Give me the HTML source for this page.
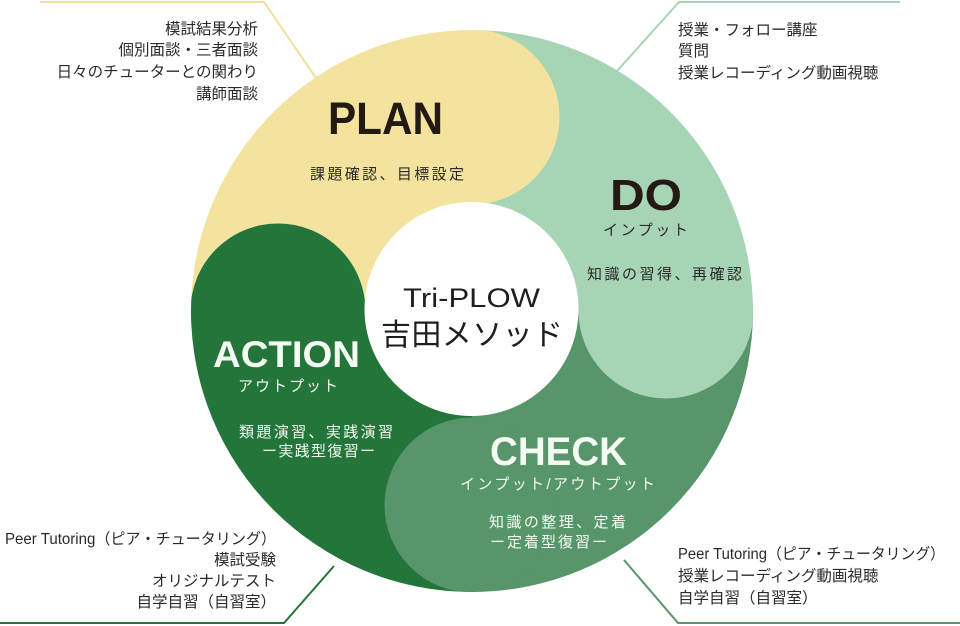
<!DOCTYPE html>
<html><head><meta charset="utf-8">
<style>
html,body{margin:0;padding:0;background:#fff;}
svg{display:block;}
text{font-family:"Liberation Sans","Noto Sans CJK JP",sans-serif;}
.n{font-size:15.5px;fill:#2a2a2a;}
.h{font-weight:bold;}
</style></head><body>
<svg width="960" height="626" viewBox="0 0 960 626" xmlns="http://www.w3.org/2000/svg">
<defs>
<clipPath id="c"><circle cx="472" cy="311" r="281"/></clipPath>
</defs>
<g clip-path="url(#c)">
<rect x="180" y="20" width="292" height="291" fill="#f3e39e"/>
<rect x="472" y="20" width="300" height="291" fill="#a7d4b4"/>
<rect x="472" y="311" width="300" height="300" fill="#57956a"/>
<rect x="180" y="311" width="292" height="300" fill="#23753a"/>
<circle cx="472" cy="117" r="87.5" fill="#f3e39e"/>
<circle cx="666" cy="311" r="87.5" fill="#a7d4b4"/>
<circle cx="472" cy="505" r="87.5" fill="#57956a"/>
<circle cx="278" cy="311" r="87.5" fill="#23753a"/>
</g>
<circle cx="471.5" cy="309" r="107" fill="#fff"/>

<polyline points="40,2 264,2 316,78" fill="none" stroke="#f0e09a" stroke-width="2"/>
<polyline points="617,71 679,2 900,2" fill="none" stroke="#a7d4b4" stroke-width="2"/>
<polyline points="0,623 284,623 334,566" fill="none" stroke="#23753a" stroke-width="2"/>
<polyline points="624,560 678,623 960,623" fill="none" stroke="#57956a" stroke-width="2"/>

<g class="n" text-anchor="end">
<text x="258" y="34">模試結果分析</text>
<text x="258" y="55">個別面談・三者面談</text>
<text x="258" y="77">日々のチューターとの関わり</text>
<text x="258" y="99">講師面談</text>
</g>
<g class="n">
<text x="678" y="35">授業・フォロー講座</text>
<text x="678" y="56">質問</text>
<text x="678" y="78">授業レコーディング動画視聴</text>
</g>
<g class="n">
<text x="5" y="544" textLength="271" lengthAdjust="spacingAndGlyphs">Peer Tutoring（ピア・チュータリング）</text>
</g>
<g class="n" text-anchor="end">
<text x="276" y="565">模試受験</text>
<text x="276" y="586">オリジナルテスト</text>
<text x="276" y="607">自学自習（自習室）</text>
</g>
<g class="n">
<text x="678" y="559" textLength="267" lengthAdjust="spacingAndGlyphs">Peer Tutoring（ピア・チュータリング）</text>
<text x="678" y="581">授業レコーディング動画視聴</text>
<text x="678" y="603">自学自習（自習室）</text>
</g>

<text x="403" y="307" font-size="27" fill="#1e1e1e" textLength="137" lengthAdjust="spacingAndGlyphs">Tri-PLOW</text>
<text x="381" y="345" font-size="30" fill="#1e1e1e" textLength="182" lengthAdjust="spacing">吉田メソッド</text>

<text class="h" x="328" y="134" font-size="45" fill="#231a14" textLength="115" lengthAdjust="spacingAndGlyphs">PLAN</text>
<text x="310" y="179" font-size="15" fill="#2a2a2a" textLength="154" lengthAdjust="spacing">課題確認、目標設定</text>

<text class="h" x="610" y="210" font-size="44" fill="#231a14" textLength="72" lengthAdjust="spacingAndGlyphs">DO</text>
<text x="603" y="235" font-size="15" fill="#2a2a2a" textLength="85" lengthAdjust="spacing">インプット</text>
<text x="587" y="279" font-size="15" fill="#2a2a2a" textLength="155" lengthAdjust="spacing">知識の習得、再確認</text>

<text class="h" x="213" y="367" font-size="37" fill="#f4fbf2" textLength="147" lengthAdjust="spacingAndGlyphs">ACTION</text>
<text x="238" y="391" font-size="15" fill="#f4fbf2" textLength="100" lengthAdjust="spacing">アウトプット</text>
<text x="239" y="437" font-size="15" fill="#f4fbf2" textLength="154" lengthAdjust="spacing">類題演習、実践演習</text>
<text x="262" y="456" font-size="15" fill="#f4fbf2" textLength="113" lengthAdjust="spacing">ー実践型復習ー</text>

<text class="h" x="490" y="465" font-size="40" fill="#f4fbf2" textLength="137" lengthAdjust="spacingAndGlyphs">CHECK</text>
<text x="460" y="489" font-size="15" fill="#f4fbf2" textLength="195" lengthAdjust="spacing">インプット/アウトプット</text>
<text x="489" y="527" font-size="15" fill="#f4fbf2" textLength="137" lengthAdjust="spacing">知識の整理、定着</text>
<text x="490" y="547" font-size="15" fill="#f4fbf2" textLength="117" lengthAdjust="spacing">ー定着型復習ー</text>
</svg>
</body></html>
